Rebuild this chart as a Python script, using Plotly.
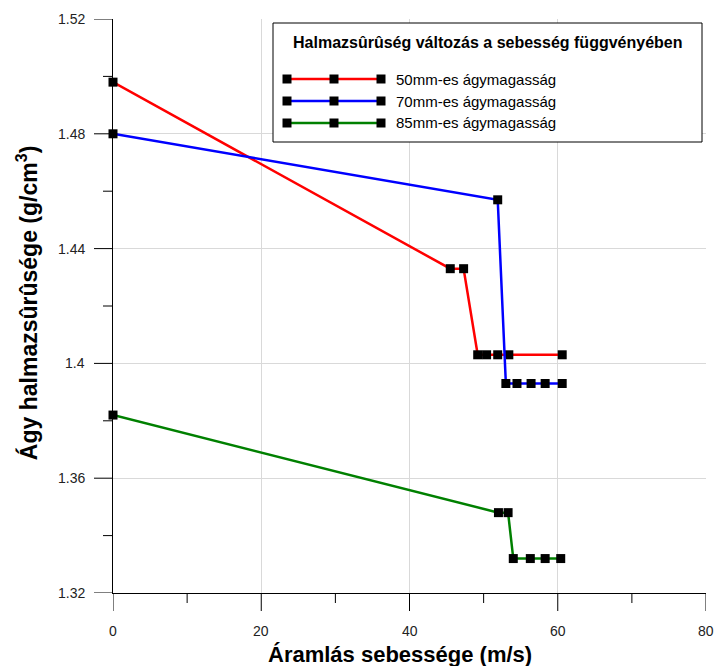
import plotly.graph_objects as go

# ---- data ----
series_names = ["50mm-es ágymagasság", "70mm-es ágymagasság", "85mm-es ágymagasság"]
series_colors = ["#ff0000", "#0000ff", "#008000"]

red_x = [0, 45.5, 47.3, 49.2, 50.4, 51.9, 53.4, 60.6]
red_y = [1.498, 1.433, 1.433, 1.403, 1.403, 1.403, 1.403, 1.403]
blue_x = [0, 51.9, 53.0, 54.5, 56.4, 58.3, 60.6]
blue_y = [1.48, 1.457, 1.393, 1.393, 1.393, 1.393, 1.393]
green_x = [0, 52.0, 53.3, 54.0, 56.3, 58.3, 60.4]
green_y = [1.382, 1.348, 1.348, 1.332, 1.332, 1.332, 1.332]

x_ticks = [0, 20, 40, 60, 80]
x_tick_labels = ["0", "20", "40", "60", "80"]
x_minor_ticks = [10, 30, 50, 70]
y_ticks = [1.32, 1.36, 1.40, 1.44, 1.48, 1.52]
y_tick_labels = ["1.32", "1.36", "1.4", "1.44", "1.48", "1.52"]
y_minor_ticks = [1.34, 1.38, 1.42, 1.46, 1.50]

legend_title = "Halmazsûrûség változás a sebesség függvényében"
x_title = "Áramlás sebessége (m/s)"
y_title = "Ágy halmazsûrûsége (g/cm<sup>3</sup>)"

FONT = "Liberation Sans, Arial, sans-serif"
TICK_FONT = dict(family=FONT, size=14, color="#222222")

fig = go.Figure()
for xs, ys, name, col in zip([red_x, blue_x, green_x], [red_y, blue_y, green_y],
                             series_names, series_colors):
    fig.add_trace(go.Scatter(
        x=xs, y=ys, name=name, mode="lines+markers",
        line=dict(color=col, width=2.5),
        marker=dict(symbol="square", size=9, color="black"),
        showlegend=False, cliponaxis=False,
    ))

shapes = []
annotations = []
# ---- tick marks and tick labels, placed through the axes' own scales ----
for v in x_ticks + x_minor_ticks:
    ln = 18 if v in x_ticks else 10
    shapes.append(dict(type="line", xref="x", yref="paper", x0=v, x1=v,
                       ysizemode="pixel", yanchor=0, y0=-ln, y1=0,
                       line=dict(color="black", width=1), layer="above"))
for v in y_ticks + y_minor_ticks:
    ln = 19 if v in y_ticks else 10
    shapes.append(dict(type="line", yref="y", xref="paper", y0=v, y1=v,
                       xsizemode="pixel", xanchor=0, x0=-ln, x1=0,
                       line=dict(color="black", width=1), layer="above"))
for v, t in zip(x_ticks, x_tick_labels):
    annotations.append(dict(xref="x", yref="paper", x=v, y=0, text=t, showarrow=False,
                            xanchor="center", yanchor="top", yshift=-28, font=TICK_FONT))
for v, t in zip(y_ticks, y_tick_labels):
    annotations.append(dict(xref="paper", yref="y", x=0, y=v, text=t, showarrow=False,
                            xanchor="right", yanchor="middle", xshift=-26, font=TICK_FONT))
# axis titles
annotations.append(dict(xref="paper", yref="paper", x=0.484, y=0, yanchor="top", yshift=-47,
                        xanchor="center", text="<b>" + x_title + "</b>", showarrow=False,
                        font=dict(family=FONT, size=22, color="black")))
annotations.append(dict(xref="paper", yref="paper", x=0, y=0.505, xanchor="center",
                        yanchor="middle", xshift=-86, textangle=-90,
                        text="<b>" + y_title + "</b>", showarrow=False,
                        font=dict(family=FONT, size=23, color="black")))

# ---- custom legend (box with title and three sample lines) ----
W, H = 593.0, 574.0  # plot area size in px
def px(x): return (x - 113) / W
def py(y): return (593 - y) / H

shapes.append(dict(type="rect", xref="paper", yref="paper",
                   x0=px(273), x1=px(702), y0=py(142), y1=py(23),
                   line=dict(color="black", width=1), fillcolor="white", layer="above"))
annotations.append(dict(xref="paper", yref="paper", x=px(487), y=py(43),
                        text="<b>" + legend_title + "</b>", showarrow=False,
                        font=dict(family=FONT, size=16, color="black"),
                        xanchor="center", yanchor="middle"))
item_y = [79, 101, 123]
for name, col, yy in zip(series_names, series_colors, item_y):
    shapes.append(dict(type="line", xref="paper", yref="paper",
                       x0=px(287), x1=px(381), y0=py(yy), y1=py(yy),
                       line=dict(color=col, width=2.5), layer="above"))
    for mx in [287, 334, 381]:
        shapes.append(dict(type="rect", xref="paper", yref="paper",
                           xsizemode="pixel", ysizemode="pixel",
                           xanchor=px(mx), yanchor=py(yy),
                           x0=-4.5, x1=4.5, y0=-4.5, y1=4.5,
                           line=dict(width=0), fillcolor="black", layer="above"))
    annotations.append(dict(xref="paper", yref="paper", x=px(394), y=py(yy),
                            text=name, showarrow=False,
                            font=dict(family=FONT, size=15, color="black"),
                            xanchor="left", yanchor="middle"))

fig.update_layout(
    template="none",
    width=717, height=666,
    margin=dict(l=113, r=11, t=19, b=73),
    paper_bgcolor="white", plot_bgcolor="white",
    font=dict(family=FONT, size=14, color="#222222"),
    shapes=shapes, annotations=annotations,
    showlegend=False,
    xaxis=dict(
        range=[x_ticks[0], x_ticks[-1]], tickmode="array", tickvals=x_ticks,
        ticks="", showticklabels=False, showline=True, linecolor="black", linewidth=1,
        showgrid=True, gridcolor="#d9d9d9", gridwidth=1, zeroline=False,
    ),
    yaxis=dict(
        range=[y_ticks[0], y_ticks[-1]], tickmode="array", tickvals=y_ticks,
        ticks="", showticklabels=False, showline=True, linecolor="black", linewidth=1,
        showgrid=True, gridcolor="#d9d9d9", gridwidth=1, zeroline=False,
    ),
)

fig.write_html("out.html")
